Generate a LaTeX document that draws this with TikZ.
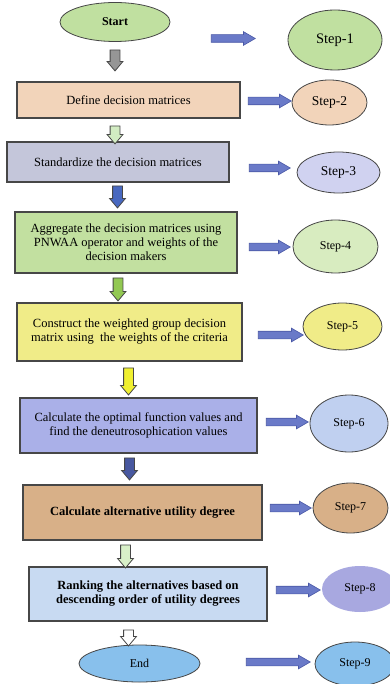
\documentclass[tikz,border=0pt]{standalone}
\usepackage{fontspec}
\setmainfont{Liberation Serif}
\usepackage{tikz}
\usetikzlibrary{shapes.geometric,shapes.arrows,calc,positioning}

\definecolor{edgegray}{HTML}{474747}
\definecolor{arrowblue}{HTML}{6A7AC8}
\definecolor{arrowedge}{HTML}{4A58A6}

\tikzset{box/.style={
  % The shape:
  rectangle,
  % The border:
  draw=edgegray, line width=1.1pt,
  % Text:
  align=center, inner sep=2pt,
  font=\fontsize{12.5}{14}\selectfont,
  }
}
\tikzset{stepnode/.style={
  ellipse, inner sep=0pt,
  draw=edgegray, line width=0.8pt,
  font=\fontsize{12}{14}\selectfont,
  }
}
\tikzset{rarrow/.style={
  single arrow, shape border rotate=0,
  inner sep=3.5pt, single arrow head extend=3pt,
  single arrow tip angle=60,
  fill=arrowblue, draw=arrowedge, line width=0.6pt,
  }
}
\tikzset{darrow/.style={
  single arrow, shape border rotate=270,
  inner sep=4.5pt, single arrow head extend=3pt,
  single arrow tip angle=80,
  draw=edgegray, line width=0.8pt,
  }
}

\begin{document}
\begin{tikzpicture}[x=1pt,y=-1pt]
  \useasboundingbox[fill=white] (0,0) rectangle (390,684);

  % Left column:
  \node (start) [stepnode, fill={rgb,255:red,192;green,224;blue,160},
        minimum width=110pt, minimum height=39pt] at (115,22) {\textbf{Start}};
  \node (define) [box, fill={rgb,255:red,242;green,212;blue,186},
        minimum width=223pt, minimum height=36pt] at (128.5,100) {Define decision matrices};
  \node (stand) [box, fill={rgb,255:red,196;green,198;blue,218},
        minimum width=222pt, minimum height=40pt] at (118,162) {Standardize the decision matrices};
  \node (aggr) [box, fill={rgb,255:red,194;green,224;blue,160},
        minimum width=222pt, minimum height=61pt] at (126,242.5)
        {Aggregate the decision matrices using\\PNWAA operator and weights of the\\decision makers};
  \node (constr) [box, fill={rgb,255:red,240;green,236;blue,136},
        minimum width=225pt, minimum height=58pt] at (129.5,332)
        {Construct the weighted group decision\\matrix using\ \ the weights of the criteria};
  \node (optim) [box, fill={rgb,255:red,170;green,176;blue,232},
        minimum width=237pt, minimum height=55pt] at (138.5,425.5)
        {Calculate the optimal function values and\\find the deneutrosophication values};
  \node (util) [box, fill={rgb,255:red,216;green,176;blue,136},
        minimum width=239pt, minimum height=55pt] at (142.5,512.5)
        {\textbf{Calculate alternative utility degree}};
  \node (rank) [box, fill={rgb,255:red,200;green,218;blue,242},
        minimum width=238pt, minimum height=54pt] at (148,594)
        {\textbf{Ranking the alternatives based on}\\\textbf{descending order of utility degrees}};
  \node (end) [stepnode, fill={rgb,255:red,136;green,192;blue,236},
        minimum width=121pt, minimum height=37pt] at (139.5,663.5) {End};

  % Right column:
  \node (s1) [stepnode, fill={rgb,255:red,192;green,224;blue,160}, font=\fontsize{14.5}{16}\selectfont,
        minimum width=94pt, minimum height=60pt] at (335,40) {Step-1};
  \node (s2) [stepnode, fill={rgb,255:red,242;green,212;blue,186}, font=\fontsize{13.5}{16}\selectfont,
        minimum width=75pt, minimum height=45pt] at (329.5,102.5) {Step-2};
  \node (s3) [stepnode, fill={rgb,255:red,208;green,210;blue,240}, font=\fontsize{13.5}{16}\selectfont,
        minimum width=83pt, minimum height=41pt] at (338.5,172.5) {Step-3};
  \node (s4) [stepnode, fill={rgb,255:red,216;green,236;blue,192},
        minimum width=85pt, minimum height=53pt] at (335.5,246.5) {Step-4};
  \node (s5) [stepnode, fill={rgb,255:red,240;green,236;blue,136},
        minimum width=79pt, minimum height=47pt] at (342.5,326.5) {Step-5};
  \node (s6) [stepnode, fill={rgb,255:red,192;green,208;blue,240},
        minimum width=78pt, minimum height=57pt] at (349,423.5) {Step-6};
  \node (s7) [stepnode, fill={rgb,255:red,216;green,176;blue,136},
        minimum width=75pt, minimum height=50pt] at (350.5,508) {Step-7};
  \node (s8) [stepnode, draw=none, fill={rgb,255:red,168;green,168;blue,224},
        minimum width=76pt, minimum height=46pt] at (360,589) {Step-8};
  \node (s9) [stepnode, fill={rgb,255:red,136;green,192;blue,236},
        minimum width=80pt, minimum height=44pt] at (355,664) {Step-9};

  % Arrows to the steps:
  \node (r1) [rarrow, minimum height=44pt] at (230,38.5) {};
  \node (r2) [rarrow, minimum height=43pt] at (266.5,101) {};
  \node (r3) [rarrow, minimum height=41pt] at (266.5,168) {};
  \node (r4) [rarrow, minimum height=41pt] at (266.5,247) {};
  \node (r5) [rarrow, minimum height=45pt] at (277.5,335) {};
  \node (r6) [rarrow, minimum height=42pt] at (284,422) {};
  \node (r7) [rarrow, minimum height=41pt] at (287.5,508) {};
  \node (r8) [rarrow, minimum height=44pt] at (295,590) {};
  \node (r9) [rarrow, minimum height=64pt] at (275,662) {};

  % Arrows down the column:
  \node (d1) [darrow, fill={rgb,255:red,150;green,150;blue,150}, minimum height=21pt] at (115,57.5) {};
  \node (d2) [darrow, fill={rgb,255:red,210;green,236;blue,194}, minimum height=18pt] at (115,132) {};
  \node (d3) [darrow, fill={rgb,255:red,72;green,104;blue,192}, minimum height=22pt] at (117.5,194) {};
  \node (d4) [darrow, fill={rgb,255:red,146;green,200;blue,82}, minimum height=23pt] at (118,286.5) {};
  \node (d5) [darrow, fill={rgb,255:red,240;green,240;blue,48}, minimum height=27pt] at (128.5,378.5) {};
  \node (d6) [darrow, fill={rgb,255:red,72;green,88;blue,160}, minimum height=22pt] at (129.5,466) {};
  \node (d7) [darrow, fill={rgb,255:red,216;green,240;blue,200}, minimum height=23pt] at (125.5,553.5) {};
  \node (d8) [darrow, fill=white, minimum height=16pt] at (128.5,635) {};
\end{tikzpicture}
\end{document}
